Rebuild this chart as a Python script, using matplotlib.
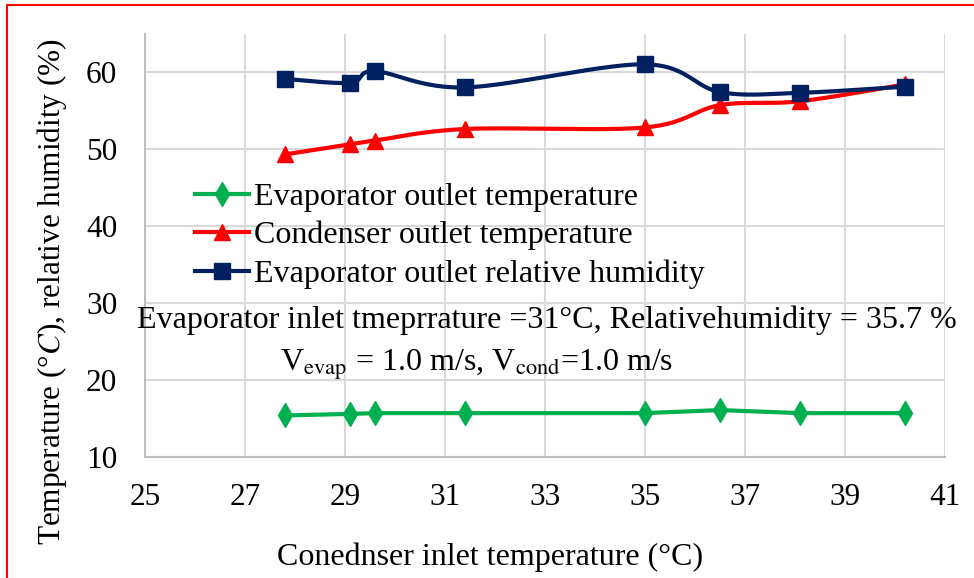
#!/usr/bin/env python3
"""
Evaporator / condenser outlet conditions vs. condenser inlet temperature.
"""
import numpy as np
import matplotlib.pyplot as plt
from matplotlib.patches import Rectangle

plt.rcParams['font.family'] = ['Liberation Serif', 'DejaVu Serif']
plt.rcParams['mathtext.fontset'] = 'stix'

# Measured data
cond_inlet = [27.8, 29.1, 29.6, 31.4, 35.0, 36.5, 38.1, 40.2]
evap_out_temp = [15.4, 15.6, 15.7, 15.7, 15.7, 16.1, 15.7, 15.7]
cond_out_temp = [49.3, 50.6, 51.1, 52.6, 52.8, 55.7, 56.2, 58.4]
evap_out_rh = [59.1, 58.6, 60.1, 58.0, 61.0, 57.4, 57.3, 58.1]

x_ticks = [25, 27, 29, 31, 33, 35, 37, 39, 41]
y_ticks = [10, 20, 30, 40, 50, 60]

GREEN = '#00B050'
RED = '#FF0000'
NAVY = '#002060'
GRID = '#D9D9D9'
FS = 23
LW = 3.0


def smooth(x, y, n=30):
    """Bezier smoothing through every point (spreadsheet-style smoothed line)."""
    p = np.column_stack([x, y]).astype(float)
    p_ext = np.vstack([p[0], p, p[-1]])
    out = []
    t = np.linspace(0, 1, n)[:, None]
    for i in range(len(p) - 1):
        p0, p3 = p_ext[i + 1], p_ext[i + 2]
        c1 = p0 + (p_ext[i + 2] - p_ext[i]) / 6
        c2 = p3 - (p_ext[i + 3] - p_ext[i + 1]) / 6
        seg = ((1 - t) ** 3) * p0 + 3 * ((1 - t) ** 2) * t * c1 \
            + 3 * (1 - t) * t ** 2 * c2 + t ** 3 * p3
        out.append(seg if i == 0 else seg[1:])
    out = np.vstack(out)
    return out[:, 0], out[:, 1]


fig = plt.figure(figsize=(9.74, 5.78), dpi=100)
ax = fig.add_axes([0.1489, 0.2093, 0.8213, 0.7327])

# Series (green straight, red and navy smoothed)
ax.plot(cond_inlet, evap_out_temp, '-', color=GREEN, lw=LW, zorder=3)
ax.plot(cond_inlet, evap_out_temp, 'd', color=GREEN, ms=12, zorder=4)
h_g, = ax.plot([], [], '-d', color=GREEN, lw=LW, ms=12)

sx, sy = smooth(cond_inlet, cond_out_temp)
ax.plot(sx, sy, '-', color=RED, lw=LW, zorder=5)
ax.plot(cond_inlet, cond_out_temp, '^', color=RED, ms=12, zorder=6)
h_r, = ax.plot([], [], '-^', color=RED, lw=LW, ms=12)

sx, sy = smooth(cond_inlet, evap_out_rh)
ax.plot(sx, sy, '-', color=NAVY, lw=LW, zorder=7)
ax.plot(cond_inlet, evap_out_rh, 's', color=NAVY, ms=12, zorder=8)
h_b, = ax.plot([], [], '-s', color=NAVY, lw=LW, ms=12)

ax.set_xlim(25, 41)
ax.set_ylim(10, 65)
ax.set_xticks(x_ticks)
ax.set_yticks(y_ticks)
ax.tick_params(length=0, labelsize=22.5)
ax.tick_params(axis='x', pad=19)
ax.tick_params(axis='y', pad=20)
ax.grid(True, color=GRID, lw=1.5, zorder=0)
ax.set_axisbelow(True)
for side in ['top', 'right']:
    ax.spines[side].set_visible(False)
for side in ['left', 'bottom']:
    ax.spines[side].set_color('#BFBFBF')
    ax.spines[side].set_linewidth(1.5)

ax.set_xlabel('Conednser inlet temperature (°C)', fontsize=FS)
ax.xaxis.set_label_coords(0.431, -0.203)
ax.set_ylabel('Temperature (°$C$), relative humidity (%)', fontsize=22.5)
ax.yaxis.set_label_coords(-0.095, 0.39)

ax.legend([h_g, h_r, h_b],
          ['Evaporator outlet temperature', 'Condenser outlet temperature',
           'Evaporator outlet relative humidity'],
          loc='upper left', bbox_to_anchor=(0.0625, 0.648), frameon=False,
          fontsize=FS, handlelength=1.7, handletextpad=0.15,
          labelspacing=0.28, borderpad=0, borderaxespad=0)

ax.text(33.04, 27.8, 'Evaporator inlet tmeprrature =31°C, Relativehumidity = 35.7 %',
        fontsize=FS, ha='center', va='center', zorder=9)
ax.text(31.63, 22.0, r'V$_{\mathrm{evap}}$ = 1.0 m/s, V$_{\mathrm{cond}}$=1.0 m/s',
        fontsize=FS, ha='center', va='center', zorder=9)

# red frame round the figure
fig.patches.append(Rectangle((7 / 974, -0.05), 1.0, 1.05 - 5 / 578,
                             transform=fig.transFigure, fill=False,
                             edgecolor=RED, lw=1.5))

fig.savefig('out.png', dpi=100)
